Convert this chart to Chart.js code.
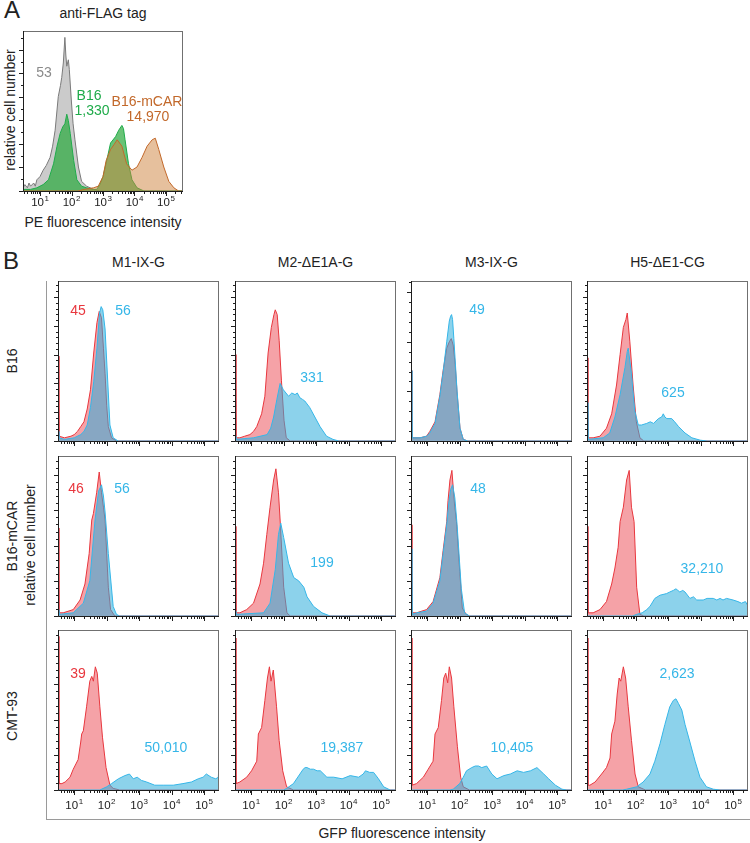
<!DOCTYPE html>
<html>
<head>
<meta charset="utf-8">
<script src="https://cdn.jsdelivr.net/npm/chart.js@4"></script>
<style>
    html, body { margin: 0; padding: 0; background: #fff; }
    #fig { position: relative; width: 750px; height: 843px; overflow: hidden;
           font-family: "Liberation Sans", Arial, sans-serif; color: #222; }
    #fig canvas { position: absolute; }
    .t { position: absolute; transform: translate(-50%, -50%); white-space: nowrap;
         font-size: 14px; line-height: 1; }
    .rot { transform: translate(-50%, -50%) rotate(-90deg); }
    .big { font-size: 24px; }
    .frame { position: absolute; border-style: solid; border-color: #9a9a9a;
             border-width: 0 0 1.5px 1.5px; }
</style>
</head>
<body>
<div id="fig"></div>
<script>
(function () {
    // x = log10(fluorescence intensity), y = relative cell number (% of panel range)
    const decadeTicks = [1, 2, 3, 4, 5];
    const columnTitles = ['M1-IX-G', 'M2-\u0394E1A-G', 'M3-IX-G', 'H5-\u0394E1-CG'];
    const rowTitles = ['B16', 'B16-mCAR', 'CMT-93'];

    // panel A, anti-FLAG staining
    const flagIsotype = [[0.46,2],[0.52,4],[0.6,2],[0.65,5],[0.7,3],[0.8,5],[0.85,3],[0.9,7],[1.0,9],[1.1,13],[1.2,16],[1.32,21],[1.4,28],[1.48,38],[1.58,59],[1.65,66],[1.69,71],[1.74,80],[1.79,96],[1.82,85],[1.85,78],[1.9,82],[1.93,76],[2.0,55],[2.05,42],[2.11,32],[2.22,15],[2.32,6],[2.48,3],[2.7,1],[2.9,0],[5.54,0]];
    const flagB16 = [[0.46,1],[0.7,1],[0.9,2],[1.1,4],[1.27,7],[1.43,17],[1.54,28],[1.64,36],[1.72,40],[1.79,42],[1.85,48],[1.9,44],[1.96,36],[2.07,19],[2.17,7],[2.32,3],[2.48,2],[2.7,1],[2.8,1],[2.9,4],[3.0,9],[3.14,21],[3.24,30],[3.4,34],[3.5,38],[3.6,41],[3.65,39],[3.7,32],[3.81,17],[3.92,7],[4.08,2],[4.3,0],[5.54,0]];
    const flagB16mCAR = [[0.46,0],[2.2,0],[2.4,1],[2.7,2],[2.85,3],[3.0,9],[3.1,19],[3.24,26],[3.35,29],[3.45,32],[3.6,28],[3.75,17],[3.92,13],[4.08,15],[4.24,21],[4.4,28],[4.56,32],[4.66,33],[4.77,26],[4.93,15],[5.09,6],[5.25,2],[5.4,0],[5.54,0]];
    const flagMedians = ['53', '1,330', '14,970'];

    // panel B, GFP: mock (red) and infected (blue)
    const b16M1Mock = [[0.5,53],[0.53,3],[0.7,2],[0.9,3],[1.0,4],[1.1,6],[1.2,9],[1.3,12],[1.4,20],[1.5,32],[1.6,55],[1.7,74],[1.77,81],[1.84,77],[1.9,58],[1.95,42],[2.0,22],[2.05,9],[2.15,2],[2.3,0],[5.46,0]];
    const b16M1Gfp = [[0.5,6],[0.53,2],[0.7,1],[1.0,2],[1.2,4],[1.3,6],[1.4,10],[1.5,21],[1.6,37],[1.7,58],[1.78,80],[1.83,84],[1.88,82],[1.95,70],[2.0,50],[2.05,30],[2.1,10],[2.2,2],[2.35,0],[5.46,0]];
    const b16M2Mock = [[0.5,54],[0.53,2],[0.65,2],[0.8,3],[0.96,4],[1.07,6],[1.17,9],[1.32,17],[1.42,28],[1.52,55],[1.62,71],[1.7,79],[1.74,82],[1.8,79],[1.86,63],[1.93,38],[2.01,13],[2.08,2],[2.2,0],[5.46,0]];
    const b16M2Gfp = [[0.5,3],[0.53,1],[1.07,2],[1.49,4],[1.6,8],[1.69,15],[1.79,26],[1.89,36],[1.99,32],[2.07,30],[2.15,28],[2.25,30],[2.35,29],[2.42,30],[2.5,27],[2.58,26],[2.65,25],[2.8,21],[2.96,15],[3.12,9],[3.32,3],[3.52,1],[3.7,0],[5.46,0]];
    const b16M3Mock = [[0.5,44],[0.53,2],[0.78,2],[0.98,3],[1.08,6],[1.24,12],[1.39,29],[1.49,44],[1.6,58],[1.68,62],[1.74,64],[1.8,60],[1.86,48],[1.92,30],[2.01,8],[2.11,1],[2.25,0],[5.46,0]];
    const b16M3Gfp = [[0.5,44],[0.53,2],[0.78,2],[0.98,3],[1.08,5],[1.24,11],[1.39,28],[1.49,43],[1.6,62],[1.68,75],[1.72,78],[1.75,79],[1.78,76],[1.82,64],[1.92,31],[2.01,8],[2.11,1],[2.25,0],[5.46,0]];
    const b16H5Mock = [[0.5,52],[0.53,2],[0.69,2],[0.9,3],[1.1,8],[1.26,17],[1.41,35],[1.52,54],[1.62,71],[1.7,76],[1.74,80],[1.82,62],[1.92,35],[2.02,12],[2.13,2],[2.25,0],[5.46,0]];
    const b16H5Gfp = [[0.5,24],[0.53,1],[1.0,2],[1.2,5],[1.36,15],[1.52,29],[1.67,46],[1.74,56],[1.77,58],[1.87,42],[1.97,19],[2.08,10],[2.18,10],[2.34,11],[2.45,12],[2.55,11],[2.7,14],[2.8,15],[2.85,17],[2.9,15],[2.96,14],[3.11,14],[3.2,12],[3.32,9],[3.52,5],[3.73,2],[3.99,0.5],[4.2,0],[5.46,0]];

    const mcarM1Mock = [[0.5,55],[0.53,2],[0.66,2],[0.97,4],[1.18,10],[1.33,20],[1.46,39],[1.54,60],[1.59,64],[1.69,77],[1.77,90],[1.84,77],[1.9,68],[1.95,60],[2.05,18],[2.12,4],[2.25,0],[5.46,0]];
    const mcarM1Gfp = [[0.5,4],[0.53,1],[0.97,2],[1.28,8],[1.48,22],[1.64,60],[1.75,78],[1.84,82],[1.9,75],[1.95,65],[2.05,39],[2.2,6],[2.3,1],[2.4,0],[5.46,0]];
    const mcarM2Mock = [[0.5,56],[0.53,2],[0.65,2],[0.86,4],[1.07,8],[1.27,20],[1.38,33],[1.48,51],[1.58,68],[1.69,85],[1.76,92],[1.84,77],[1.89,60],[2.0,18],[2.1,2],[2.2,0],[5.46,0]];
    const mcarM2Gfp = [[0.5,3],[0.53,1],[1.38,2],[1.58,8],[1.74,29],[1.84,51],[1.91,58],[2.0,49],[2.15,33],[2.31,24],[2.46,22],[2.62,18],[2.72,12],[2.92,6],[3.18,2],[3.43,0],[5.46,0]];
    const mcarM3Mock = [[0.5,57],[0.53,2],[0.67,2],[0.98,4],[1.18,9],[1.39,24],[1.49,41],[1.6,59],[1.64,72],[1.7,85],[1.76,91],[1.84,70],[1.9,59],[2.0,28],[2.08,5],[2.2,1],[2.3,0],[5.46,0]];
    const mcarM3Gfp = [[0.5,42],[0.53,1],[0.67,2],[0.98,3],[1.18,8],[1.39,22],[1.49,39],[1.6,57],[1.66,70],[1.72,79],[1.78,82],[1.85,74],[1.92,57],[2.05,17],[2.15,2],[2.3,0],[5.46,0]];
    const mcarH5Mock = [[0.5,56],[0.53,2],[0.69,2],[0.9,4],[1.1,9],[1.26,20],[1.36,30],[1.46,43],[1.52,59],[1.62,68],[1.72,85],[1.8,91],[1.87,68],[1.95,59],[2.03,18],[2.13,1],[2.25,0],[5.46,0]];
    const mcarH5Gfp = [[0.5,0],[1.9,0],[2.03,1],[2.2,2],[2.34,4],[2.44,6],[2.59,11],[2.75,13],[2.95,14],[3.05,15],[3.16,16],[3.24,17],[3.3,16],[3.36,15],[3.45,16],[3.52,15],[3.67,11],[3.78,12],[3.88,10],[3.98,10],[4.08,10],[4.2,11],[4.39,11],[4.5,10],[4.6,11],[4.69,10],[4.8,11],[5.0,10],[5.15,9],[5.26,8],[5.38,9],[5.44,7],[5.46,18]];

    const cmtM1Mock = [[0.5,96],[0.53,4],[0.62,4],[0.72,5],[0.87,8],[0.97,13],[1.12,19],[1.2,30],[1.23,35],[1.28,37],[1.38,52],[1.48,68],[1.54,71],[1.59,68],[1.65,77],[1.71,73],[1.79,52],[1.87,33],[1.98,14],[2.1,3],[2.2,1],[2.4,0],[5.46,0]];
    const cmtM1Gfp = [[0.5,0],[1.79,0],[2.0,2],[2.15,4],[2.36,7],[2.56,9],[2.7,10],[2.82,7],[2.94,8],[3.07,6],[3.23,5],[3.48,3],[3.74,3],[4.05,3],[4.35,4],[4.61,5],[4.82,7],[4.97,8],[5.07,10],[5.22,8],[5.36,7],[5.44,8],[5.46,18]];
    const cmtM2Mock = [[0.5,95],[0.53,4],[0.65,5],[0.86,8],[1.01,12],[1.17,18],[1.22,35],[1.32,39],[1.42,56],[1.5,70],[1.56,77],[1.61,68],[1.68,75],[1.78,52],[1.86,31],[1.97,12],[2.09,2],[2.3,0],[5.46,0]];
    const cmtM2Gfp = [[0.5,0],[2.0,0],[2.09,1],[2.3,4],[2.5,10],[2.6,13],[2.66,14],[2.72,14],[2.82,13],[2.92,13],[3.03,12],[3.13,12],[3.33,8],[3.54,8],[3.8,7],[4.05,9],[4.31,8],[4.45,10],[4.52,12],[4.65,11],[4.77,11],[4.92,7],[5.08,2],[5.28,0],[5.46,0]];
    const cmtM3Mock = [[0.5,95],[0.53,3],[0.67,4],[0.88,8],[1.03,13],[1.18,18],[1.24,35],[1.34,39],[1.44,56],[1.51,70],[1.57,73],[1.63,67],[1.68,77],[1.75,70],[1.82,52],[1.93,27],[2.03,8],[2.11,2],[2.3,0],[5.46,0]];
    const cmtM3Gfp = [[0.5,0],[1.7,0],[1.8,0.5],[2.0,4],[2.11,8],[2.21,12],[2.37,14],[2.48,15],[2.58,15],[2.68,14],[2.83,15],[2.99,10],[3.15,7],[3.36,9],[3.56,10],[3.77,12],[3.97,11],[4.18,12],[4.38,14],[4.59,10],[4.74,7],[4.95,3],[5.15,0.5],[5.3,0],[5.46,0]];
    const cmtH5Mock = [[0.5,95],[0.53,3],[0.59,3],[0.75,5],[0.95,10],[1.1,14],[1.21,20],[1.26,35],[1.36,43],[1.43,60],[1.49,70],[1.54,68],[1.62,77],[1.69,70],[1.77,52],[1.87,31],[1.98,10],[2.08,2],[2.3,0],[5.46,0]];
    const cmtH5Gfp = [[0.5,0],[1.6,0],[1.72,0.5],[2.03,2],[2.23,5],[2.44,10],[2.59,18],[2.75,29],[2.9,41],[3.05,52],[3.16,56],[3.24,57],[3.32,54],[3.42,50],[3.52,41],[3.67,30],[3.83,18],[3.98,8],[4.18,2],[4.39,0.5],[4.6,0],[5.46,0]];

    const mockSeries = [
        [b16M1Mock, b16M2Mock, b16M3Mock, b16H5Mock],
        [mcarM1Mock, mcarM2Mock, mcarM3Mock, mcarH5Mock],
        [cmtM1Mock, cmtM2Mock, cmtM3Mock, cmtH5Mock],
    ];
    const gfpSeries = [
        [b16M1Gfp, b16M2Gfp, b16M3Gfp, b16H5Gfp],
        [mcarM1Gfp, mcarM2Gfp, mcarM3Gfp, mcarH5Gfp],
        [cmtM1Gfp, cmtM2Gfp, cmtM3Gfp, cmtH5Gfp],
    ];
    const mockMedians = [['45', '', '', ''], ['46', '', '', ''], ['39', '', '', '']];
    const gfpMedians = [
        ['56', '331', '49', '625'],
        ['56', '199', '48', '32,210'],
        ['50,010', '19,387', '10,405', '2,623'],
    ];

    // ---- layout ----
    const colLeft = [58, 235, 411, 587];
    const rowTop = [281, 456, 630];
    const cellW = 161;
    const cellH = 160;
    const yTickStep = [[18, 18, 31, 18], [22, 22, 22, 22], [22, 22, 22, 22]];
    const mockLabelPos = [[78, 310], [76, 488], [78, 673]];
    const gfpLabelPos = [
        [[123, 310], [312, 377], [477, 309], [673, 392]],
        [[122, 488], [322, 562], [478, 488], [702, 568]],
        [[166, 747], [342, 747], [512, 747], [677, 673]],
    ];

    const RED = '#e8373e';
    const BLUE = '#35b6e8';
    const GRAY = '#7a7a7a';
    const GREEN = '#1fab4a';
    const BROWN = '#c2682a';

    const fig = document.getElementById('fig');

    const addText = (text, x, y, cls, color) => {
        const el = document.createElement('div');
        el.className = 't' + (cls ? ' ' + cls : '');
        el.textContent = text;
        el.style.left = x + 'px';
        el.style.top = y + 'px';
        if (color) {
            el.style.color = color;
        }
        fig.appendChild(el);
    };

    // frame, ticks and decade labels around each histogram
    const flowAxes = {
        id: 'flowAxes',
        afterDraw(chart, args, opts) {
            const { ctx, chartArea: a, scales: { x, y } } = chart;
            ctx.save();
            ctx.lineWidth = 1;
            ctx.strokeStyle = '#707070';
            ctx.strokeRect(a.left + 0.5, a.top + 0.5, a.right - a.left - 1, a.bottom - a.top);

            ctx.strokeStyle = '#1e1e1e';
            ctx.beginPath();
            ctx.moveTo(a.left + 0.5, a.top);
            ctx.lineTo(a.left + 0.5, a.bottom + 0.5);
            ctx.lineTo(a.right, a.bottom + 0.5);

            const minor = opts.yStep / opts.ySub;
            for (let i = 0; i * minor <= y.max; i++) {
                const py = Math.round(y.getPixelForValue(i * minor)) + 0.5;
                const len = i % opts.ySub === 0 ? 4 : 2;
                ctx.moveTo(a.left - len, py);
                ctx.lineTo(a.left, py);
            }
            for (let d = 0; d <= 5; d++) {
                for (let k = 1; k <= 9; k++) {
                    const v = d + Math.log10(k);
                    if (v < x.min || v > x.max) {
                        continue;
                    }
                    const px = Math.round(x.getPixelForValue(v)) + 0.5;
                    ctx.moveTo(px, a.bottom);
                    ctx.lineTo(px, a.bottom + (k === 1 ? 5 : 3));
                }
            }
            ctx.stroke();

            if (opts.showXLabels) {
                ctx.fillStyle = '#222';
                ctx.textBaseline = 'middle';
                ctx.textAlign = 'left';
                decadeTicks.forEach((d) => {
                    const px = x.getPixelForValue(d);
                    ctx.font = '11.5px "Liberation Sans", Arial, sans-serif';
                    const w1 = ctx.measureText('10').width;
                    ctx.font = '8px "Liberation Sans", Arial, sans-serif';
                    const w2 = ctx.measureText(String(d)).width;
                    const x0 = px - (w1 + w2 + 0.5) / 2;
                    const yl = a.bottom + opts.labelGap;
                    ctx.font = '11.5px "Liberation Sans", Arial, sans-serif';
                    ctx.fillText('10', x0, yl);
                    ctx.font = '8px "Liberation Sans", Arial, sans-serif';
                    ctx.fillText(String(d), x0 + w1 + 0.5, yl - 4.5);
                });
            }
            ctx.restore();
        },
    };

    const makeHisto = (cfg) => {
        const padL = 12, padT = 4, padR = 3, padB = 26;
        const canvas = document.createElement('canvas');
        canvas.width = cfg.width + padL + padR;
        canvas.height = cfg.height + padT + padB;
        canvas.style.left = (cfg.left - padL) + 'px';
        canvas.style.top = (cfg.top - padT) + 'px';
        fig.appendChild(canvas);

        new Chart(canvas, {
            type: 'line',
            data: {
                datasets: cfg.series.map((s) => ({
                    data: s.points.map((p) => ({ x: p[0], y: p[1] })),
                    borderColor: s.line,
                    backgroundColor: s.fill,
                    borderWidth: 1,
                    fill: 'origin',
                    pointRadius: 0,
                    tension: 0,
                    order: s.order,
                })),
            },
            options: {
                responsive: false,
                animation: false,
                devicePixelRatio: 1,
                events: [],
                layout: { padding: { left: padL, top: padT, right: padR, bottom: padB } },
                scales: {
                    x: { type: 'linear', min: cfg.xMin, max: cfg.xMax, display: false },
                    y: { min: 0, max: 100, display: false },
                },
                plugins: {
                    legend: { display: false },
                    tooltip: { enabled: false },
                    flowAxes: {
                        yStep: cfg.yStep,
                        ySub: cfg.ySub,
                        showXLabels: cfg.showXLabels,
                        labelGap: cfg.labelGap,
                    },
                },
            },
            plugins: [flowAxes],
        });
    };

    // ---- panel A ----
    addText('A', 12, 10, 'big');
    addText('anti-FLAG tag', 103, 13);
    addText('relative cell number', 10, 110, 'rot');
    addText('PE fluorescence intensity', 103, 222);
    makeHisto({
        left: 23, top: 31, width: 160, height: 160,
        xMin: 0.46, xMax: 5.54,
        yStep: 14.7, ySub: 2,
        showXLabels: true, labelGap: 12,
        series: [
            { points: flagIsotype, line: GRAY, fill: 'rgba(185,185,185,0.75)', order: 3 },
            { points: flagB16, line: GREEN, fill: 'rgba(40,170,60,0.7)', order: 2 },
            { points: flagB16mCAR, line: BROWN, fill: 'rgba(205,130,60,0.5)', order: 1 },
        ],
    });
    addText(flagMedians[0], 44, 72, '', '#8a8a8a');
    addText('B16', 89, 95, '', GREEN);
    addText(flagMedians[1], 92, 110, '', GREEN);
    addText('B16-mCAR', 147, 101, '', BROWN);
    addText(flagMedians[2], 148, 116, '', BROWN);

    // ---- panel B ----
    addText('B', 11, 261, 'big');
    const frame = document.createElement('div');
    frame.className = 'frame';
    Object.assign(frame.style, { left: '46px', top: '281px', width: '703px', height: '538px' });
    fig.appendChild(frame);

    columnTitles.forEach((title, c) => addText(title, colLeft[c] + cellW / 2, 262));
    rowTitles.forEach((title, r) => addText(title, 12, rowTop[r] + cellH / 2 + (r === 2 ? 6 : 0), 'rot'));
    addText('relative cell number', 30, 545, 'rot');
    addText('GFP fluorescence intensity', 402, 833);

    for (let r = 0; r < 3; r++) {
        for (let c = 0; c < 4; c++) {
            makeHisto({
                left: colLeft[c], top: rowTop[r], width: cellW, height: cellH,
                xMin: 0.5, xMax: 5.46,
                yStep: yTickStep[r][c], ySub: 5,
                showXLabels: r === 2, labelGap: 16,
                series: [
                    { points: mockSeries[r][c], line: RED, fill: 'rgba(235,70,80,0.5)', order: 2 },
                    { points: gfpSeries[r][c], line: BLUE, fill: 'rgba(46,173,219,0.55)', order: 1 },
                ],
            });
            if (mockMedians[r][c]) {
                addText(mockMedians[r][c], mockLabelPos[r][0], mockLabelPos[r][1], '', RED);
            }
            addText(gfpMedians[r][c], gfpLabelPos[r][c][0], gfpLabelPos[r][c][1], '', BLUE);
        }
    }
})();
</script>
</body>
</html>
